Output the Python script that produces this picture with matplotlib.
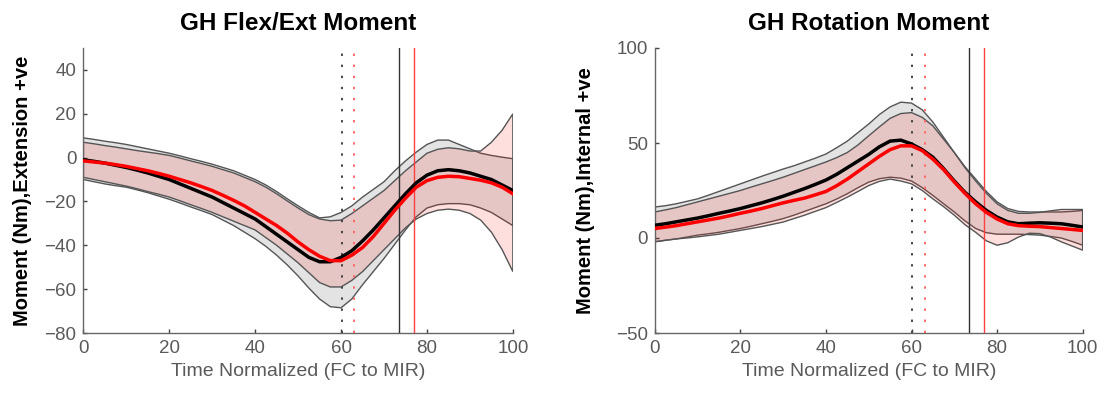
import numpy as np
import matplotlib
matplotlib.use('Agg')
import matplotlib.pyplot as plt

plt.rcParams['font.family'] = ['Liberation Sans', 'DejaVu Sans']

# time axis, % of FC to MIR (samples every 2.5 %)
time_pct = np.linspace(0, 100, 41)

# GH flex/ext moment (Nm), black group
flex_black_mean = [-1, -1.7, -2.5, -3.5, -4.5, -5.7, -7, -8.5, -10, -12, -14, -16, -18, -20.5, -23, -25.5, -28,
                   -31.5, -35, -38.5, -42, -45.5, -47.5, -47.5, -45.5, -42.5, -38, -33, -27.5, -22, -16.5,
                   -11.5, -8, -6, -5.5, -6, -7, -8.5, -10, -12.5, -15]
flex_black_hi = [9, 8.3, 7.5, 6.8, 6, 5, 4, 3, 2, 0.8, -0.5, -1.7, -3, -4.5, -6, -8, -10,
                 -12.5, -15.5, -18.8, -22, -25, -27.5, -27, -25, -22, -18, -14.5, -11, -6, -1.5,
                 2.5, 6, 8, 8, 6, 4, 2, 1, 0.2, -0.5]
flex_black_lo = [-10, -11, -12, -12.8, -13.5, -14.7, -16, -17.5, -19, -20.7, -22.5, -24.2, -26, -28.5, -31, -34, -37,
                 -40.5, -44.5, -49, -54, -59.5, -64.5, -68, -68.5, -64.5, -58, -52, -46, -39.5, -33,
                 -27, -23, -21.5, -21, -21, -21.5, -23, -25, -28, -31]
# red group
flex_red_mean = [-1.5, -2, -2.5, -3.2, -4, -5, -6, -7.2, -8.5, -10, -11.5, -13.2, -15, -17.2, -19.5, -22, -25,
                 -28, -31, -34.5, -38.5, -42, -45, -47, -47, -44.5, -41, -36, -30, -24, -18.5,
                 -13.5, -10.5, -9, -8.5, -8.7, -9.5, -10.3, -11.5, -13.5, -16.5]
flex_red_hi = [7, 6.3, 5.5, 4.8, 4, 3.2, 2.5, 1.8, 1, -0.2, -1.5, -2.7, -4, -5.5, -7, -9, -11,
               -13.5, -16.5, -19.8, -23, -26, -28, -28.8, -28.5, -25.5, -22, -18.5, -15, -10.5, -6,
               -2, 2, 3.8, 4.5, 4, 3, 3, 7, 12.5, 20]
flex_red_lo = [-9, -10, -11, -12, -13, -14.2, -15.5, -16.7, -18, -19.7, -21.5, -23.2, -25, -27, -29, -31, -33,
               -36.5, -40, -44, -48, -52.5, -57, -59, -59, -56, -52, -47, -42, -37, -32,
               -28, -25.5, -24, -23.5, -24, -25.5, -28.5, -34, -42, -52]

# GH rotation moment (Nm), black group
rot_black_mean = [6.7, 7.5, 8.5, 9.5, 10.5, 11.7, 13, 14.2, 15.5, 17, 18.5, 20.2, 22, 24, 26, 28.2, 30.5,
                  33.5, 37, 40.5, 44, 48, 51, 51.5, 49.5, 46.5, 42.5, 36.5, 30, 24, 19,
                  14.5, 11, 8.5, 7.5, 7.8, 8, 7.8, 7.5, 6.7, 5.8]
rot_black_hi = [16.3, 17, 18, 19.3, 20.6, 22.5, 24.5, 26.5, 28.5, 30.5, 32.5, 34.4, 36.3, 38, 40, 42, 44.2,
                47.5, 51, 55.5, 60, 65, 69, 71.5, 71, 67.5, 61, 53, 45, 37.5, 31,
                24.5, 19, 15.5, 14, 13.7, 13.7, 13.7, 13.7, 14, 14.5]
rot_black_lo = [-2, -1.2, -0.5, 0.5, 1.5, 2.2, 3, 4, 5, 6.2, 7.5, 8.8, 10.2, 12, 14, 16, 18,
                20.5, 23.3, 26.5, 29.4, 31.2, 32, 31.5, 30, 26.5, 22.4, 18, 13.7, 9, 5,
                2.8, 2, 2, 2, 1.8, 1.5, 0.8, 0, -1.8, -3.8]
# red group
rot_red_mean = [5, 5.7, 6.5, 7.5, 8.5, 9.5, 10.5, 11.7, 13, 14.2, 15.5, 17, 18.5, 19.8, 21, 22.7, 24.5,
                27.5, 31, 35, 39, 43, 46.5, 48.5, 48.5, 46, 41.5, 36, 29.5, 23.5, 18,
                13.5, 10, 7.5, 6.5, 6.2, 6, 5.5, 5, 4.5, 4]
rot_red_hi = [13.7, 14.8, 16, 17.5, 19, 20.5, 22, 23.5, 25, 26.8, 28.5, 30.2, 32, 34, 36, 38, 40,
              42.3, 45, 49, 53.8, 58.5, 63, 65.5, 66, 63.5, 59, 52, 45, 37, 30,
              23.5, 18, 14.5, 13, 13, 13.5, 14.3, 15, 15, 15]
rot_red_lo = [-2, -1.2, -0.5, 0, 0.6, 1.3, 2, 3, 4, 5, 6, 7.2, 8.4, 10.2, 12, 14, 16,
              18.7, 21.5, 24.5, 27.6, 29.8, 31, 30, 28.5, 25, 20.6, 16.5, 12, 7, 3,
              -1.5, -3.8, -2.5, 0.5, 2.5, 2.3, 0.5, -2, -4.2, -6.4]

# event markers (% time)
event_black_dotted = 60.2
event_red_dotted = 63.1
event_black_solid = 73.5
event_red_solid = 77.0

panels = [
    ('GH Flex/Ext Moment', 'Moment (Nm),Extension +ve', (-80, 50), [-80, -60, -40, -20, 0, 20, 40], 9,
     flex_black_mean, flex_black_hi, flex_black_lo, flex_red_mean, flex_red_hi, flex_red_lo),
    ('GH Rotation Moment', 'Moment (Nm),Internal +ve', (-50, 100), [-50, 0, 50, 100], 15,
     rot_black_mean, rot_black_hi, rot_black_lo, rot_red_mean, rot_red_hi, rot_red_lo),
]

fig = plt.figure(figsize=(11.07, 4.0), dpi=100)
axes = [fig.add_axes([0.0753, 0.1675, 0.388, 0.7125]),
        fig.add_axes([0.5915, 0.1675, 0.3865, 0.7125])]

grey_txt = '#5a5a5a'
t = time_pct

for ax, (title, ylab, ylim, yticks, ypad, bm, bh, bl, rm, rh, rl) in zip(axes, panels):
    poly_x = np.concatenate([t, t[::-1]])
    ax.fill(poly_x, np.concatenate([bh, bl[::-1]]), facecolor='#e3e3e3',
            edgecolor='#555555', linewidth=1.0, zorder=1)
    ax.fill(poly_x, np.concatenate([rh, rl[::-1]]), facecolor=(1, 0, 0, 0.13),
            edgecolor='#555555', linewidth=1.0, zorder=2)

    ax.axvline(event_black_dotted, color='#444444', lw=1.4, ls=(0, (1.2, 4.5)), zorder=3)
    ax.axvline(event_red_dotted, color='#ff6666', lw=1.4, ls=(0, (1.2, 4.5)), zorder=3)
    ax.axvline(event_black_solid, color='#333333', lw=1.0, zorder=3)
    ax.axvline(event_red_solid, color='#ff4040', lw=1.0, zorder=3)

    ax.plot(t, bm, color='black', lw=2.5, zorder=4)
    ax.plot(t, rm, color='red', lw=2.5, zorder=5)

    ax.set_xlim(0, 100)
    ax.set_ylim(*ylim)
    ax.set_xticks([0, 20, 40, 60, 80, 100])
    ax.set_yticks(yticks)
    for side in ['top', 'right']:
        ax.spines[side].set_visible(False)
    for side in ['left', 'bottom']:
        ax.spines[side].set_color('#666666')
        ax.spines[side].set_linewidth(1.0)
    ax.tick_params(direction='in', length=3, width=1, color='#444444',
                   labelsize=13.5, labelcolor=grey_txt, pad=5)
    ax.set_title(title, fontsize=17.5, fontweight='bold', pad=13)
    ax.set_xlabel('Time Normalized (FC to MIR)', fontsize=14, color=grey_txt, labelpad=4)
    ax.set_ylabel(ylab, fontsize=14.5, fontweight='bold', labelpad=ypad)

fig.savefig('out.png', dpi=100)
